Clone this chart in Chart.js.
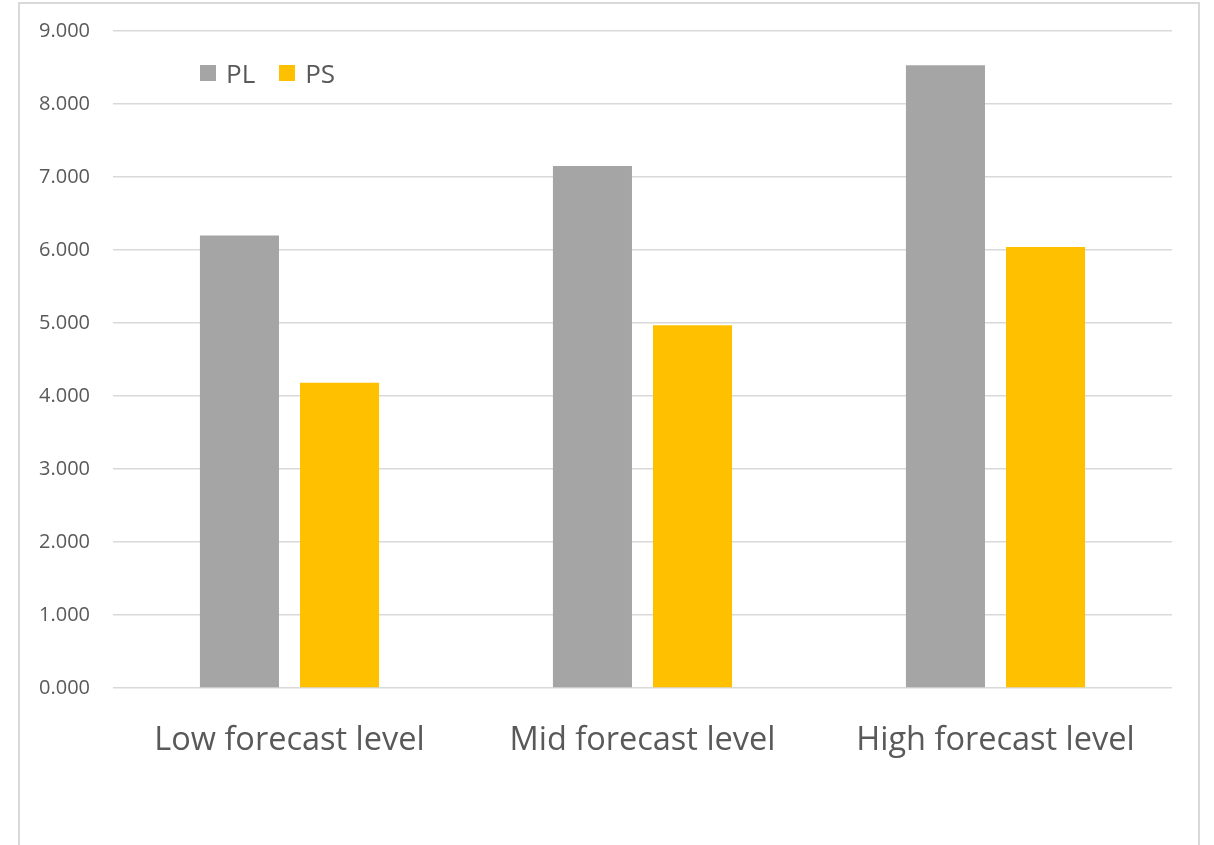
<!DOCTYPE html>
<html>
<head>
<meta charset="utf-8">
<script src="https://cdn.jsdelivr.net/npm/chart.js@4/dist/chart.umd.min.js"></script>
<style>
  body { margin: 0; background: #fff; overflow: hidden; }
  #wrap { position: relative; width: 1214px; height: 845px; }
  #frame { position: absolute; left: 18px; top: 2px; width: 1182px; height: 900px; border: 2px solid #d9d9d9; box-sizing: border-box; }
  #chart { position: absolute; left: 0; top: 0; }
  #legend { position: absolute; left: 200px; top: 55px; font-family: "Open Sans", sans-serif; font-size: 26px; color: #595959; display: flex; align-items: center; }
  #legend span.box { display: inline-block; width: 16px; height: 16px; margin-right: 10px; }
  #legend span.item { display: inline-flex; align-items: center; margin-right: 24px; }
</style>
</head>
<body>
<div id="wrap">
  <div id="frame"></div>
  <canvas id="chart" width="1214" height="845"></canvas>
  <div id="legend"></div>
</div>
<script>
// 데이터
const categories = ['Low forecast level', 'Mid forecast level', 'High forecast level'];
const seriesNames = ['PL', 'PS'];
const plValues = [6.20, 7.15, 8.53];
const psValues = [4.18, 4.97, 6.04];
const yTickLabels = ['0.000', '1.000', '2.000', '3.000', '4.000', '5.000', '6.000', '7.000', '8.000', '9.000'];

const colors = ['#A5A5A5', '#FFC000'];

const ctx = document.querySelector('#chart').getContext('2d');

const myChart = new Chart(ctx, {
  type: 'bar',
  data: {
    labels: categories,
    datasets: [
      { label: seriesNames[0], data: plValues, backgroundColor: colors[0] },
      { label: seriesNames[1], data: psValues, backgroundColor: colors[1] }
    ]
  },
  options: {
    responsive: false,
    animation: false,
    layout: { padding: { left: 20, top: 31, right: 42, bottom: 0 } },
    datasets: { bar: { categoryPercentage: 0.567, barPercentage: 0.79 } },
    plugins: {
      legend: { display: false },
      tooltip: { enabled: false }
    },
    scales: {
      x: {
        grid: { display: false },
        border: { display: false },
        ticks: {
          color: '#595959',
          font: { family: 'Open Sans', size: 32.5 },
          padding: 25,
          maxRotation: 0
        },
        afterFit: (s) => { s.height = 157; s.paddingLeft = 0; s.paddingRight = 0; }
      },
      y: {
        min: 0,
        max: yTickLabels.length - 1,
        grid: { color: '#d9d9d9', lineWidth: 1.5, drawTicks: false },
        border: { display: false },
        ticks: {
          stepSize: 1,
          padding: 23,
          color: '#595959',
          font: { family: 'Open Sans', size: 20 },
          callback: (value) => yTickLabels[value]
        },
        afterFit: (s) => { s.width = 93; s.paddingTop = 0; s.paddingBottom = 0; }
      }
    }
  }
});

// 범례
let html = ``;
seriesNames.forEach((name, i) => {
  html += `<span class="item"><span class="box" style="background:${colors[i]}"></span>${name}</span>`;
});
document.querySelector('#legend').innerHTML = html;
</script>
</body>
</html>
